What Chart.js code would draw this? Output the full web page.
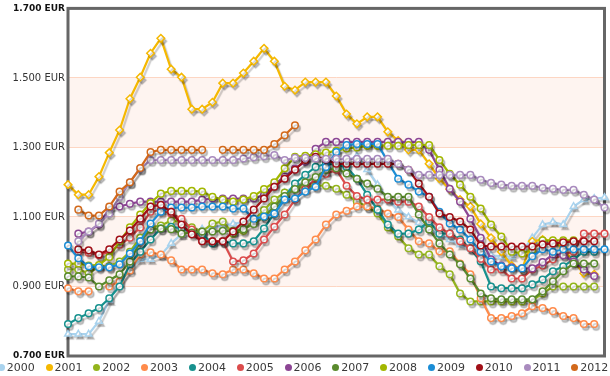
<!DOCTYPE html>
<html>
<head>
<meta charset="utf-8">
<script src="https://cdn.jsdelivr.net/npm/chart.js@4.4.0/dist/chart.umd.min.js"></script>
<style>
  html, body { margin: 0; padding: 0; background: #fff; }
  #wrap { position: relative; width: 610px; height: 376px; overflow: hidden; }
  #legend { position: absolute; left: 0; top: 361px; height: 15px; width: 610px;
            font: 11px "DejaVu Sans", Verdana, sans-serif; color: #3a3a3a; }
  .item { position: absolute; top: 0; white-space: nowrap; }
  .dot { position: absolute; top: 3px; width: 7px; height: 7px; border-radius: 50%; }
  .lbl { position: absolute; left: 9px; top: 0; }
</style>
</head>
<body>
<div id="wrap">
  <canvas id="fuelChart" width="610" height="376"></canvas>
  <div id="legend"></div>
</div>
<script>
// weeks of the year (x categories)
const weeks = [1,2,3,4,5,6,7,8,9,10,11,12,13,14,15,16,17,18,19,20,21,22,23,24,25,26,27,
               28,29,30,31,32,33,34,35,36,37,38,39,40,41,42,43,44,45,46,47,48,49,50,51,52,53];

const years = ['2000','2001','2002','2003','2004','2005','2006','2007','2008','2009','2010','2011','2012'];
const colors = ['#a9d3ee','#f5b800','#93b41c','#ff8b4b','#17918e','#dc4c4c','#8c4694',
                '#5a8a2d','#a2b700','#1a8dd6','#a10f17','#a98bbe','#d2691b'];

// weekly prices in EUR
const y2000 = [0.763,0.763,0.763,0.80,0.86,0.91,0.95,0.978,0.978,0.99,
  1.024,1.05,1.06,1.065,1.07,1.075,1.08,1.085,1.095,1.11,
  1.14,1.17,1.19,1.20,1.21,1.23,1.25,1.26,1.275,1.236,
  1.193,1.15,1.12,1.10,1.084,1.065,1.05,1.035,1.02,1.01,
  1.0,0.99,0.986,0.986,1.0,1.04,1.078,1.085,1.078,1.13,
  1.15,1.153,1.156];
const y2001 = [1.193,1.164,1.164,1.216,1.285,1.35,1.44,1.502,1.571,1.614,
  1.525,1.502,1.41,1.41,1.43,1.485,1.485,1.514,1.548,1.585,
  1.548,1.476,1.465,1.488,1.488,1.488,1.448,1.396,1.368,1.388,
  1.388,1.345,1.32,1.293,1.293,1.253,1.21,1.18,1.15,1.13,
  1.08,1.04,1.0,0.96,0.95,1.03,1.035,1.03,1.01,0.972,
  0.938,0.935];
const y2002 = [0.949,0.949,0.938,0.958,0.958,0.972,1.0,1.04,1.07,1.075,
  1.09,1.085,1.07,1.058,1.081,1.087,1.052,1.06,1.09,1.12,
  1.15,1.17,1.18,1.19,1.19,1.19,1.181,1.164,1.144,1.13,
  1.11,1.07,1.044,1.01,0.992,0.992,0.958,0.935,0.88,0.857,
  0.857,0.857,0.857,0.857,0.857,0.86,0.88,0.90,0.90,0.90,
  0.90,0.90];
const y2003 = [0.895,0.886,0.886,null,0.90,0.915,0.946,0.992,0.998,0.992,
  0.975,0.949,0.949,0.949,0.938,0.935,0.949,0.949,0.938,0.923,
  0.923,0.949,0.972,1.004,1.035,1.078,1.107,1.118,1.13,1.13,
  1.124,1.11,1.10,1.064,1.03,1.024,1.001,1.001,0.966,0.935,
  0.866,0.809,0.809,0.815,0.823,0.843,0.838,0.829,0.815,0.809,
  0.792,0.792];
const y2004 = [0.792,0.809,0.823,0.838,0.866,0.90,0.964,1.00,1.035,1.067,
  1.072,1.067,1.06,1.05,1.024,1.03,1.024,1.024,1.03,1.067,
  1.11,1.158,1.196,1.221,1.244,1.253,1.25,1.244,1.21,1.164,
  1.121,1.078,1.052,1.052,1.064,1.087,1.052,1.052,1.035,1.01,
  0.972,0.90,0.895,0.895,0.895,0.906,0.92,0.944,0.958,0.978,
  1.0,1.0];
const y2005 = [null,1.0,0.997,0.99,1.0,1.02,1.04,1.07,1.115,1.12,
  1.11,1.095,1.064,1.03,1.03,1.03,0.972,0.975,0.995,1.035,
  1.072,1.107,1.15,1.181,1.21,1.224,1.236,1.19,1.16,1.15,
  1.15,1.15,1.144,1.144,1.13,1.10,1.07,1.052,1.03,1.01,
  0.98,0.949,0.949,0.923,0.923,0.949,0.96,0.978,0.992,1.0,
  1.052,1.052,1.052];
const y2006 = [null,1.052,1.058,1.078,1.124,1.13,1.138,1.144,1.144,1.144,
  1.144,1.144,1.144,1.15,1.153,1.153,1.153,1.153,1.153,1.164,
  1.193,1.216,1.239,1.259,1.296,1.316,1.316,1.316,1.316,1.316,
  1.316,1.316,1.316,1.316,1.316,1.293,1.236,1.181,1.144,1.095,
  1.04,0.978,0.96,0.955,0.952,0.952,0.97,0.992,0.99,0.972,
  0.949,0.93];
const y2007 = [0.929,0.929,0.926,0.90,0.918,0.935,0.972,1.03,1.064,1.067,
  1.065,1.052,1.055,1.058,1.058,1.06,1.06,1.065,1.08,1.10,
  1.13,1.16,1.18,1.20,1.215,1.235,1.24,1.225,1.21,1.196,
  1.181,1.158,1.158,1.158,1.107,1.064,1.024,0.992,0.964,0.923,
  0.88,0.866,0.863,0.863,0.863,0.863,0.886,0.915,0.944,0.966,
  0.966,0.966];
const y2008 = [0.966,0.966,0.96,0.962,0.985,1.03,1.07,1.107,1.14,1.167,
  1.175,1.175,1.175,1.173,1.158,1.15,1.144,1.15,1.16,1.18,
  1.20,1.24,1.273,1.276,1.28,1.285,1.29,1.297,1.30,1.305,
  1.305,1.305,1.305,1.307,1.307,1.307,1.264,1.224,1.193,1.158,
  1.124,1.078,1.044,1.0,0.995,1.005,1.033,1.033,1.033,1.033];
const y2009 = [1.018,0.981,0.958,0.955,0.955,0.964,0.995,1.03,1.081,1.115,
  1.127,1.127,1.127,1.13,1.13,1.13,1.124,1.124,1.095,1.101,
  1.11,1.15,1.153,1.173,1.187,1.244,1.287,1.307,1.31,1.31,
  1.31,1.259,1.21,1.193,1.173,1.158,1.115,1.081,1.064,1.035,
  1.0,0.972,0.958,0.952,0.952,0.987,1.007,1.0,1.007,1.007,
  1.007,1.007,1.007];
const y2010 = [null,1.007,1.004,0.992,1.007,1.035,1.061,1.095,1.13,1.135,
  1.115,1.078,1.05,1.03,1.03,1.03,1.058,1.087,1.121,1.153,
  1.187,1.21,1.236,1.264,1.273,1.265,1.253,1.253,1.253,1.253,
  1.253,1.253,1.253,1.236,1.196,1.158,1.11,1.10,1.087,1.064,
  1.018,1.015,1.015,1.015,1.015,1.015,1.021,1.024,1.027,1.03,
  1.03,1.03];
const y2011 = [null,1.03,1.058,1.081,1.11,1.158,1.20,1.239,1.264,1.264,
  1.264,1.264,1.264,1.264,1.264,1.264,1.264,1.268,1.272,1.275,
  1.278,1.264,1.27,1.27,1.268,1.267,1.267,1.267,1.267,1.267,
  1.267,1.267,1.253,1.236,1.221,1.221,1.221,1.221,1.221,1.221,
  1.207,1.198,1.193,1.19,1.19,1.19,1.184,1.181,1.178,1.178,
  1.164,1.15,1.127];
const y2012 = [null,1.121,1.104,1.104,1.13,1.173,1.20,1.241,1.287,1.293,
  1.293,1.293,1.293,1.293,null,1.293,1.293,1.293,1.293,1.293,
  1.31,1.335,1.364];

const series = [y2000,y2001,y2002,y2003,y2004,y2005,y2006,y2007,y2008,y2009,y2010,y2011,y2012];

// y axis ticks
const yTicks = [0.7, 0.9, 1.1, 1.3, 1.5, 1.7];
const bands = [[0.9, 1.1], [1.3, 1.5]];

function fmtEur(v) {
  return v.toFixed(3) + ' EUR';
}

const datasets = series.map((data, k) => ({
  label: years[k],
  data: data,
  borderColor: colors[k],
  backgroundColor: colors[k],
  borderWidth: 2.2,
  pointRadius: k < 2 ? 3.8 : 3.3,
  pointStyle: k === 0 ? 'triangle' : (k === 1 ? 'rectRot' : 'circle'),
  pointBackgroundColor: '#ffffff',
  pointBorderColor: colors[k],
  pointBorderWidth: 1.5,
  tension: 0,
  spanGaps: false,
  clip: false,
  order: 12 - k
}));

// light bands + frame behind the lines
const bandPlugin = {
  id: 'bands',
  beforeDraw(chart) {
    const { ctx, chartArea: a, scales: { y } } = chart;
    ctx.save();
    ctx.fillStyle = '#ffffff';
    ctx.fillRect(0, 0, chart.width, chart.height);
    ctx.fillStyle = '#fef4f0';
    bands.forEach(b => {
      const top = y.getPixelForValue(b[1]);
      const bot = y.getPixelForValue(b[0]);
      ctx.fillRect(a.left, top, a.right - a.left, bot - top);
    });
    ctx.restore();
  },
  beforeDatasetsDraw(chart) {
    const { ctx, chartArea: a } = chart;
    ctx.save();
    ctx.strokeStyle = '#666666';
    ctx.lineWidth = 3;
    ctx.strokeRect(a.left, a.top, a.right - a.left, a.bottom - a.top);
    ctx.restore();
  }
};

// soft grey shadow under every line
const shadowPlugin = {
  id: 'shadow',
  beforeDatasetDraw(chart) {
    const ctx = chart.ctx;
    ctx.save();
    ctx.shadowColor = 'rgba(0,0,0,0.2)';
    ctx.shadowOffsetX = 2;
    ctx.shadowOffsetY = 3;
    ctx.shadowBlur = 1;
  },
  afterDatasetDraw(chart) {
    chart.ctx.restore();
  }
};

const isEdge = i => i === 0 || i === yTicks.length - 1;

const ctx = document.getElementById('fuelChart').getContext('2d');
new Chart(ctx, {
  type: 'line',
  data: { labels: weeks, datasets: datasets },
  options: {
    responsive: false,
    animation: false,
    devicePixelRatio: 1,
    layout: { padding: { top: 6, right: 2, bottom: 20, left: 0 } },
    plugins: { legend: { display: false }, tooltip: { enabled: false } },
    scales: {
      x: { type: 'category', offset: false, display: false },
      y: {
        min: 0.7,
        max: 1.7,
        afterFit(scale) { scale.width = 68; },
        afterBuildTicks(scale) { scale.ticks = yTicks.map(v => ({ value: v })); },
        border: { display: false },
        grid: {
          drawTicks: false,
          lineWidth: 1,
          color: c => isEdge(c.index) ? 'rgba(0,0,0,0)' : '#fdd6c3'
        },
        ticks: {
          padding: 3,
          color: c => isEdge(c.index) ? '#111' : '#333',
          font: c => ({
            family: '"DejaVu Sans", Verdana, sans-serif',
            size: isEdge(c.index) ? 9 : 10,
            weight: isEdge(c.index) ? 'bold' : 'normal'
          }),
          callback: v => fmtEur(v)
        }
      }
    }
  },
  plugins: [bandPlugin, shadowPlugin]
});

// legend row at the bottom
const legend = document.getElementById('legend');
years.forEach((yr, k) => {
  const item = document.createElement('div');
  item.className = 'item';
  item.style.left = (1.2 + k * 47.8 - 3.5) + 'px';
  item.innerHTML = '<span class="dot" style="background:' + colors[k] + '"></span><span class="lbl">' + yr + '</span>';
  legend.appendChild(item);
});
</script>
</body>
</html>
